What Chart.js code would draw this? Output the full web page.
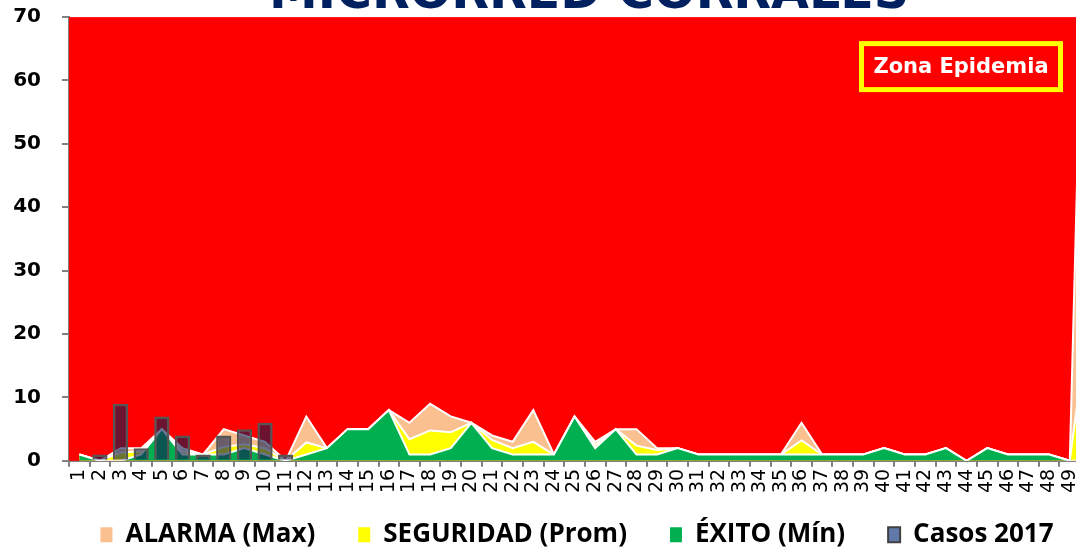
<!DOCTYPE html>
<html>
<head>
<meta charset="utf-8">
<script src="https://cdn.jsdelivr.net/npm/chart.js@4.4.1/dist/chart.umd.min.js"></script>
<style>
  html, body { margin: 0; padding: 0; background: #fff; overflow: hidden; }
  #wrap { position: relative; width: 1076px; height: 549px; overflow: hidden; }
  #box { position: absolute; left: 0; top: -30px; width: 1158px; height: 604px; }
</style>
</head>
<body>
<div id="wrap"><div id="box"><canvas id="canal"></canvas></div></div>
<script>
// --- Canal endemico: semanas epidemiologicas (el recorte muestra hasta la 49) ---
const semanas = ['1','2','3','4','5','6','7','8','9','10','11','12','13','14','15','16','17','18','19','20',
  '21','22','23','24','25','26','27','28','29','30','31','32','33','34','35','36','37','38','39','40',
  '41','42','43','44','45','46','47','48','49','50','51','52'];

const alarma = [1,0,2,2,5,2,1,5,4,3, 0,7,2,5,5,8,6,9,7,6, 4,3,8,1,7,3,5,5,2,2,
  1,1,1,1,1,6,1,1,1,2, 1,1,2,0,2,1,1,1,0,125];

const seguridad = [1,0,1.3,1.5,5,1.5,1,2.2,2.6,2, 0,2.9,2,5,5,8,3.4,4.8,4.5,6, 3.3,2,3,1,7,2.5,5,2.4,1.7,2,
  1,1,1,1,1,3.2,1,1,1,2, 1,1,2,0,2,1,1,1,0,25];

const exito = [1,0,0,1,5,1,1,1,2,1, 0,1,2,5,5,8,1,1,2,6, 2,1,1,1,7,2,5,1,1,2,
  1,1,1,1,1,1,1,1,1,2, 1,1,2,0,2,1,1,1,0,0];

const casos2017 = [null,1,9,2,7,4,1,4,5,6,1];

const yTicks = [0,10,20,30,40,50,60,70];

// zona epidemia = fondo rojo del area del grafico
const zonaRoja = {
  id: 'zonaRoja',
  beforeDatasetsDraw(chart) {
    const { ctx, chartArea: a } = chart;
    ctx.save();
    ctx.fillStyle = '#ff0000';
    ctx.fillRect(a.left, a.top, a.right - a.left, a.bottom - a.top);
    ctx.restore();
  }
};

const etiquetaZona = {
  id: 'etiquetaZona',
  afterDatasetsDraw(chart) {
    const { ctx, chartArea: a } = chart;
    const x = a.left + 792.5, y = a.top + 26.5, w = 199, h = 46;
    ctx.save();
    ctx.strokeStyle = '#ffff00';
    ctx.lineWidth = 5;
    ctx.strokeRect(x, y, w, h);
    ctx.fillStyle = '#ffffff';
    ctx.font = 'bold 21px "DejaVu Sans"';
    ctx.textAlign = 'center';
    ctx.textBaseline = 'middle';
    ctx.fillText('Zona Epidemia', x + w / 2, y + h / 2 + 1);
    ctx.restore();
  }
};

// acomoda leyenda y titulo como en el original
const acomodar = {
  id: 'acomodar',
  afterLayout(chart) {
    const l = chart.legend;
    const dy = l.top - (chart.chartArea.bottom + 18);
    l.top -= dy; l.bottom -= dy;
    l.left += 6; l.right += 6;
    const t = chart.titleBlock;
    t.left += 18; t.right += 18;
  }
};

function area(label, data, color, order) {
  return {
    type: 'line',
    label: label,
    data: data,
    backgroundColor: color,
    borderColor: '#ffffff',
    borderWidth: 2,
    pointRadius: 0,
    tension: 0,
    fill: 'origin',
    order: order
  };
}

const ctx = document.getElementById('canal').getContext('2d');
new Chart(ctx, {
  type: 'bar',
  data: {
    labels: semanas,
    datasets: [
      {
        type: 'bar',
        label: 'Casos 2017',
        data: casos2017,
        backgroundColor: 'rgba(18,30,80,0.62)',
        borderColor: '#555555',
        borderWidth: 2.5,
        barPercentage: 0.74,
        categoryPercentage: 1,
        order: 0
      },
      area('ÉXITO (Mín)', exito, '#00b050', 1),
      area('SEGURIDAD (Prom)', seguridad, '#ffff00', 2),
      area('ALARMA (Max)', alarma, '#fac090', 3)
    ]
  },
  options: {
    responsive: true,
    maintainAspectRatio: false,
    animation: false,
    layout: { padding: { left: 0, right: 16, top: 0, bottom: 0 } },
    plugins: {
      title: {
        display: true,
        text: 'MICRORRED CORRALES',
        color: '#002060',
        font: { family: 'DejaVu Sans', size: 49, weight: 'bold', lineHeight: 0.9 },
        padding: { top: 3, bottom: 0 }
      },
      legend: {
        position: 'bottom',
        labels: {
          font: { family: 'Open Sans', size: 26, weight: 'bold' },
          color: '#000000',
          boxWidth: 12,
          boxHeight: 15,
          padding: 43,
          generateLabels: () => [
            { text: 'ALARMA (Max)', fillStyle: '#fac090', strokeStyle: '#fac090', lineWidth: 0 },
            { text: 'SEGURIDAD (Prom)', fillStyle: '#ffff00', strokeStyle: '#ffff00', lineWidth: 0 },
            { text: 'ÉXITO (Mín)', fillStyle: '#00b050', strokeStyle: '#00b050', lineWidth: 0 },
            { text: 'Casos 2017', fillStyle: '#6079a8', strokeStyle: '#404040', lineWidth: 2 }
          ]
        }
      },
      tooltip: { enabled: false }
    },
    scales: {
      x: {
        offset: true,
        z: 1,
        grid: { offset: true, drawOnChartArea: false, drawTicks: true, tickLength: 6, color: '#808080', lineWidth: 2 },
        border: { color: '#808080', width: 2 },
        ticks: {
          autoSkip: false,
          minRotation: 90,
          maxRotation: 90,
          padding: 2,
          color: '#000000',
          font: { family: 'DejaVu Sans', size: 19 }
        }
      },
      y: {
        min: 0,
        max: 70,
        z: 1,
        afterBuildTicks: (scale) => { scale.ticks = yTicks.map(v => ({ value: v })); },
        grid: { drawOnChartArea: false, drawTicks: true, tickLength: 7, color: '#808080', lineWidth: 2 },
        border: { color: '#808080', width: 2 },
        ticks: {
          padding: 21,
          crossAlign: 'near',
          color: '#000000',
          font: { family: 'DejaVu Sans', size: 20, weight: 'bold' }
        },
        afterFit: (scale) => { scale.width = 69; }
      }
    }
  },
  plugins: [zonaRoja, etiquetaZona, acomodar]
});
</script>
</body>
</html>
